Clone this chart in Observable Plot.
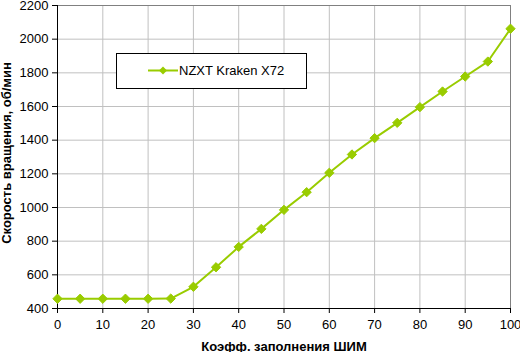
<!DOCTYPE html>
<html><head><meta charset="utf-8">
<script src="https://cdn.jsdelivr.net/npm/d3@7"></script>
<script src="https://cdn.jsdelivr.net/npm/@observablehq/plot@0.6"></script>
<style>
body{margin:0;background:#fff;}
#wrap{position:relative;width:520px;height:352px;}
#legend{position:absolute;left:116px;top:53px;width:191px;height:36px;border:1px solid #000;background:#fff;box-sizing:border-box;font:13px "Liberation Sans",Arial,sans-serif;color:#000;}
#legend svg{position:absolute;left:0;top:0;}
#legend span{position:absolute;left:62px;top:9px;}
</style></head><body><div id="wrap"></div>
<script>
const duty = [0,5,10,15,20,25,30,35,40,45,50,55,60,65,70,75,80,85,90,95,100];
const rpm = [458,458,458,458,458,459,529,645,766,873,986,1091,1206,1315,1412,1503,1596,1689,1778,1867,2062];
const seriesName = "NZXT Kraken X72";
const xTicks = [0,10,20,30,40,50,60,70,80,90,100];
const yTicks = [400,600,800,1000,1200,1400,1600,1800,2000,2200];
const xLabel = "Коэфф. заполнения ШИМ";
const yLabel = "Скорость вращения, об/мин";
const color = "#99cc00";

const data = duty.map((d,i)=>({x:d,y:rpm[i]}));

const chart = Plot.plot({
  width:520, height:352,
  marginLeft:57, marginRight:10, marginTop:5, marginBottom:44,
  style:{fontFamily:"'Liberation Sans',Arial,sans-serif", fontSize:"13px", color:"#000", background:"#fff"},
  x:{domain:[0,100]},
  y:{domain:[400,2200]},
  marks:[
    Plot.gridX(xTicks,{stroke:"#c0c0c0",strokeOpacity:1}),
    Plot.gridY(yTicks,{stroke:"#c0c0c0",strokeOpacity:1}),
    Plot.frame({stroke:"#808080"}),
    Plot.ruleX([0],{stroke:"#000"}),
    Plot.ruleY([400],{stroke:"#000"}),
    Plot.axisX(xTicks,{tickSize:5,tickPadding:6,label:null,stroke:"#000",fontSize:13,tickFormat:d=>String(d)}),
    Plot.axisY(yTicks,{tickSize:5,tickPadding:4,label:null,stroke:"#000",fontSize:13,tickFormat:d=>String(d)}),
    Plot.line(data,{x:"x",y:"y",stroke:color,strokeWidth:2}),
    Plot.dot(data,{x:"x",y:"y",symbol:"diamond2",r:4.2,fill:color,stroke:color,strokeWidth:1}),
    Plot.text([xLabel],{frameAnchor:"bottom",dy:42,fontWeight:"bold",fontSize:13,lineAnchor:"bottom"}),
    Plot.text([yLabel],{frameAnchor:"left",textAnchor:"middle",dx:-56,dy:-4,rotate:-90,fontWeight:"bold",fontSize:13,lineAnchor:"top"})
  ]
});
const wrap = document.getElementById("wrap");
wrap.appendChild(chart);
const leg = document.createElement("div");
leg.id="legend";
leg.innerHTML = `<svg width="62" height="34"><line x1="31" y1="16.5" x2="61" y2="16.5" stroke="${color}" stroke-width="2"/><path d="M46,12.5 L50,16.5 L46,20.5 L42,16.5Z" fill="${color}"/></svg><span></span>`;
leg.querySelector("span").textContent = seriesName;
wrap.appendChild(leg);
</script></body></html>
